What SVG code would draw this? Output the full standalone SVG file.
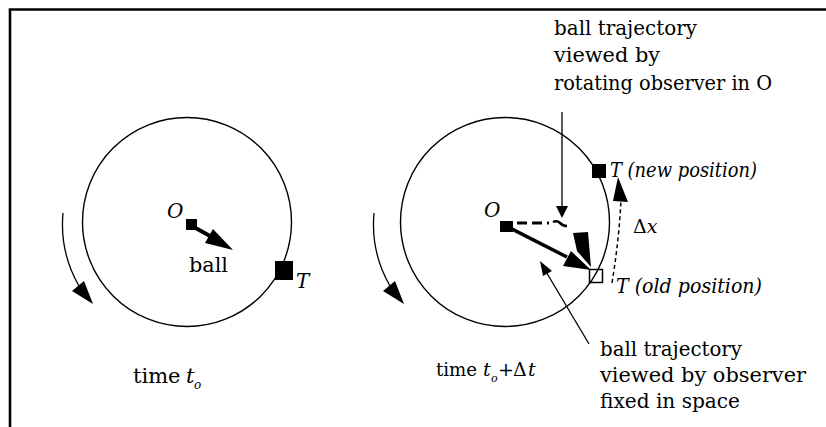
<svg xmlns="http://www.w3.org/2000/svg" width="826" height="427" viewBox="0 0 826 427">
<style>
.t{font-family:"DejaVu Serif","Liberation Serif",serif;font-size:20px;fill:#000}
.i{font-style:italic}
.s21{font-size:21px}
.s19{font-size:19px}
.s12{font-size:12px}
.s11{font-size:11px}
.c{fill:none;stroke:#000;stroke-width:1.4}
.thin{fill:none;stroke:#000;stroke-width:1.3}
.ah{fill:#000;stroke:none}
</style>
<rect width="826" height="427" fill="#fff"/>
<g id="frame">
<path d="M10,427 V9.5 H826" fill="none" stroke="#000" stroke-width="2.6"/>
</g>
<g id="left-disc">
<circle class="c" cx="187" cy="222" r="104.5"/>
<rect x="275" y="261" width="18" height="19" fill="#000"/>
<rect x="186" y="219" width="11" height="11" fill="#000"/>
<text class="t i" x="167" y="218">O</text>
<text class="t i" x="296" y="288">T</text>
<text class="t s21" x="189" y="272" textLength="39" lengthAdjust="spacingAndGlyphs">ball</text>
</g>
<g id="right-disc">
<circle class="c" cx="505" cy="222" r="104.5"/>
<rect x="592" y="164" width="14" height="14" fill="#000"/>
<rect x="589.5" y="269.5" width="13" height="13" fill="none" stroke="#000" stroke-width="1.5"/>
<rect x="500" y="221" width="13" height="11" fill="#000"/>
<text class="t i" x="484" y="217">O</text>
<text class="t i" x="610" y="177" textLength="147" lengthAdjust="spacingAndGlyphs">T (new position)</text>
<text class="t i" x="616" y="293" textLength="146" lengthAdjust="spacingAndGlyphs">T (old position)</text>
<text class="t s19" x="633" y="233"><tspan>Δ</tspan><tspan class="i">x</tspan></text>
</g>
<g id="label-rotating">
<text class="t" x="554" y="35" textLength="143" lengthAdjust="spacingAndGlyphs">ball trajectory</text>
<text class="t" x="554" y="62" textLength="106" lengthAdjust="spacingAndGlyphs">viewed by</text>
<text class="t" x="554" y="90" textLength="218" lengthAdjust="spacingAndGlyphs">rotating observer in O</text>
</g>
<g id="label-fixed">
<text class="t" x="600" y="356" textLength="142" lengthAdjust="spacingAndGlyphs">ball trajectory</text>
<text class="t" x="600" y="382" textLength="206" lengthAdjust="spacingAndGlyphs">viewed by observer</text>
<text class="t" x="600" y="408" textLength="140" lengthAdjust="spacingAndGlyphs">fixed in space</text>
</g>
<g id="label-time0">
<text class="t s21" x="133" y="383">time</text>
<text class="t i s21" x="186" y="383">t</text>
<text class="t i s12" x="194" y="389">o</text>
</g>
<g id="label-time1">
<text class="t s19" x="436" y="376" textLength="41" lengthAdjust="spacingAndGlyphs">time</text>
<text class="t i s19" x="483" y="376">t</text>
<text class="t i s11" x="491" y="382">o</text>
<text class="t s19" x="498" y="376">+</text>
<text class="t s19" x="513" y="376">Δ</text>
<text class="t i s19" x="528" y="376">t</text>
</g>
<g id="connectors">
<path class="thin" d="M63,213 A124,124 0 0 0 79,286"/>
<polygon class="ah" points="93,304 84,281 72,291"/>
<path class="thin" d="M374,213 A124,124 0 0 0 390,286"/>
<polygon class="ah" points="404,304 395,281 383,291"/>
<line x1="192" y1="226" x2="210" y2="236" stroke="#000" stroke-width="4"/>
<polygon class="ah" points="233,250 205,243 213,229"/>
<line x1="506" y1="226" x2="567" y2="257" stroke="#000" stroke-width="3.5"/>
<polygon class="ah" points="591,270 563,266 571,251"/>
<path d="M517,223 H549" fill="none" stroke="#000" stroke-width="3" stroke-dasharray="10,5"/>
<path d="M553,222 q4,-2 7,1 t7,3" fill="none" stroke="#000" stroke-width="2.5"/>
<polygon class="ah" points="573,233 588,232 591,267 577,251"/>
<path d="M612,283 Q619,240 621,200" fill="none" stroke="#000" stroke-width="1.5" stroke-dasharray="4,3"/>
<polygon class="ah" points="618,177 613,201 628,202"/>
<line x1="562" y1="112" x2="562" y2="208" stroke="#000" stroke-width="1.3"/>
<polygon class="ah" points="556,206 568,206 562,218"/>
<line x1="589" y1="344" x2="545" y2="270" stroke="#000" stroke-width="1.3"/>
<polygon class="ah" points="540,261 552,271 543,276"/>
</g>
</svg>
